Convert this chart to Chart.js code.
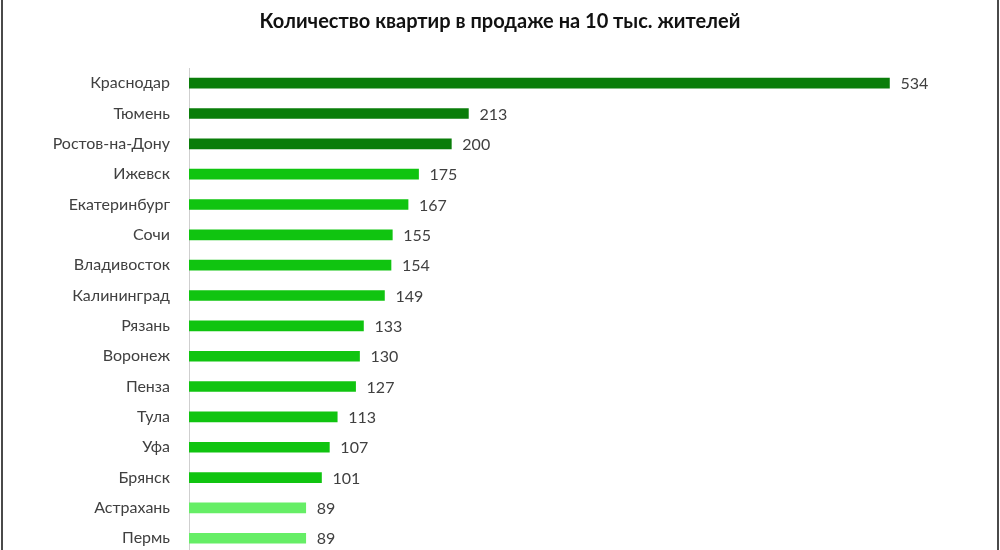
<!DOCTYPE html>
<html>
<head>
<meta charset="utf-8">
<script src="https://cdn.jsdelivr.net/npm/chart.js@4"></script>
<style>
  html, body { margin: 0; padding: 0; background: #fff; overflow: hidden; }
  #wrap {
    box-sizing: border-box;
    width: 998px;
    height: 574px;
    margin-left: 1px;
    border-left: 2px solid #4a4a4a;
    border-right: 2px solid #4a4a4a;
  }
  canvas { display: block; }
</style>
</head>
<body>
<div id="wrap"><canvas id="chart" width="994" height="574"></canvas></div>
<script>
const cities = [
  "Краснодар", "Тюмень", "Ростов-на-Дону", "Ижевск", "Екатеринбург",
  "Сочи", "Владивосток", "Калининград", "Рязань", "Воронеж",
  "Пенза", "Тула", "Уфа", "Брянск", "Астрахань", "Пермь"
];
const flats = [534, 213, 200, 175, 167, 155, 154, 149, 133, 130, 127, 113, 107, 101, 89, 89];
// группа цвета: 0 - тёмный, 1 - средний, 2 - светлый
const groups = [0, 0, 0, 1, 1, 1, 1, 1, 1, 1, 1, 1, 1, 1, 2, 2];
const palette = ["#0a7d0a", "#10c410", "#66ee66"];

const fontFamily = "Lato, 'Open Sans', sans-serif";

const valueLabels = {
  id: "valueLabels",
  afterDatasetsDraw(chart) {
    const ctx = chart.ctx;
    const meta = chart.getDatasetMeta(0);
    ctx.save();
    ctx.font = "16px " + fontFamily;
    ctx.fillStyle = "#404040";
    ctx.textAlign = "left";
    ctx.textBaseline = "middle";
    meta.data.forEach((bar, i) => {
      ctx.fillText(flats[i], bar.x + 11, bar.y + 1);
    });
    ctx.restore();
  }
};

const ctx = document.getElementById("chart").getContext("2d");
new Chart(ctx, {
  type: "bar",
  data: {
    labels: cities,
    datasets: [
      {
        label: "Количество квартир",
        data: flats,
        backgroundColor: groups.map((g) => palette[g]),
        borderWidth: 0,
        barThickness: 10
      }
    ]
  },
  options: {
    indexAxis: "y",
    responsive: false,
    animation: false,
    layout: {
      padding: { left: 0, right: 0, top: 0, bottom: 9 }
    },
    plugins: {
      legend: { display: false },
      tooltip: { enabled: false },
      title: {
        display: true,
        text: "Количество квартир в продаже на 10 тыс. жителей",
        color: "#111111",
        font: { family: fontFamily, size: 20, weight: "bold" },
        padding: { top: 10, bottom: 34 }
      }
    },
    scales: {
      x: {
        display: false,
        min: 0,
        max: 616
      },
      y: {
        grid: { display: false },
        border: { display: true, color: "#cfcfcf", width: 1 },
        ticks: {
          color: "#404040",
          padding: 11,
          font: { family: fontFamily, size: 16 }
        },
        afterFit(scale) {
          scale.width = 186;
        }
      }
    }
  },
  plugins: [valueLabels]
});
</script>
</body>
</html>
